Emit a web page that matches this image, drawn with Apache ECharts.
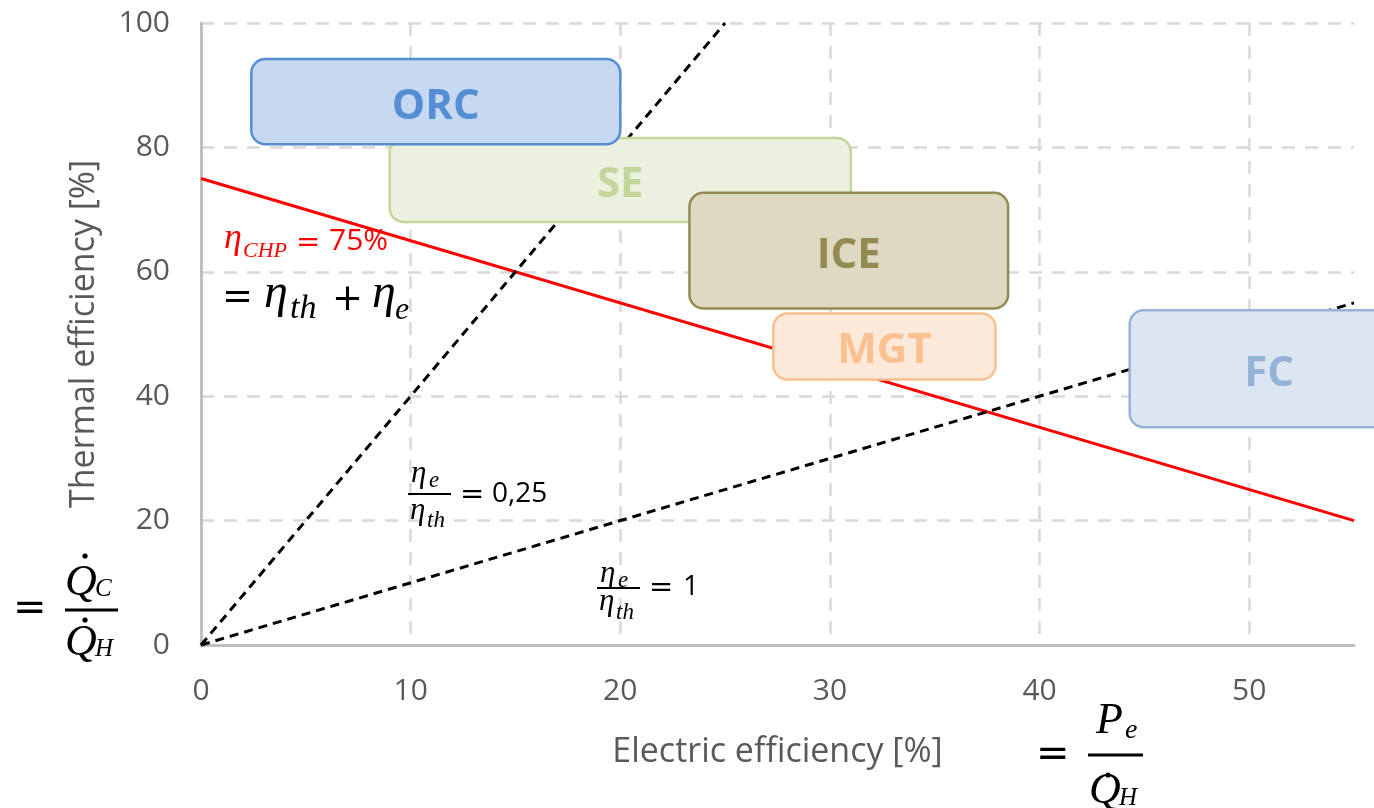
<!DOCTYPE html>
<html>
<head>
<meta charset="utf-8">
<script src="https://cdn.jsdelivr.net/npm/echarts@6/dist/echarts.min.js"></script>
<style>
html,body{margin:0;padding:0;background:#fff;}
#chart{width:1374px;height:808px;}
</style>
</head>
<body>
<div id="chart"></div>
<script>
// ---- data ----
const xMin = 0, xMax = 55, xInterval = 10;
const yMin = 0, yMax = 100, yInterval = 20;

// technology regions (drawn in this order)
const boxNames     = ['SE', 'ORC', 'ICE', 'MGT', 'FC'];
const boxElecMin   = [9.0, 2.4, 23.3, 27.3, 44.3];
const boxElecMax   = [31.0, 20.0, 38.5, 37.9, 57.6];
const boxThermMin  = [68.0, 80.5, 54.1, 42.7, 35.0];
const boxThermMax  = [81.5, 94.2, 72.7, 53.3, 53.8];

// reference lines
const chpElec   = [0, 55];
const chpTherm  = [75, 20];
const r025Elec  = [0, 25];
const r025Therm = [0, 100];
const r1Elec    = [0, 55];
const r1Therm   = [0, 55];

// ---- styles ----
const boxStyles = {
  SE:  {fill:'#ebf1de', stroke:'#c3d69b', text:'#c3d69b'},
  ORC: {fill:'#c6d9f1', stroke:'#558ed5', text:'#558ed5'},
  ICE: {fill:'#ddd9c3', stroke:'#948a54', text:'#948a54'},
  MGT: {fill:'#fde9d9', stroke:'#fac090', text:'#fac090'},
  FC:  {fill:'#dce6f2', stroke:'#95b3d7', text:'#95b3d7'}
};
const SANS = '"Open Sans", sans-serif';
const SERIF = '"Liberation Serif", serif';
const OPS = '"DejaVu Sans", sans-serif';
const GREY = '#595959';

const pairs = (xs, ys) => xs.map((x, i) => [x, ys[i]]);
const boxData = boxNames.map((n, i) => [boxElecMin[i], boxThermMin[i], boxElecMax[i], boxThermMax[i], i]);

// ---- math annotation helpers ----
// serif/italic letter placed by baseline
function sym(t, x, base, size, color) {
  return {
    type: 'text', x: x, y: base - 0.34 * size, z: 200,
    style: {text: t, fill: color || '#000', fontSize: size, fontFamily: SERIF,
            fontStyle: 'italic', align: 'left', verticalAlign: 'middle'}
  };
}
// sans number placed by baseline
function num(t, x, base, size, color) {
  return {
    type: 'text', x: x, y: base - 0.39 * size, z: 200,
    style: {text: t, fill: color || '#000', fontSize: size, fontFamily: SANS,
            align: 'left', verticalAlign: 'middle'}
  };
}
// operator placed by its visual centre
function op(t, x, cy, size, color) {
  return {
    type: 'text', x: x, y: cy, z: 200,
    style: {text: t, fill: color || '#000', fontSize: size, fontFamily: OPS,
            align: 'left', verticalAlign: 'middle'}
  };
}
function bar(x1, x2, y, w) {
  return {type:'line', z:200, shape:{x1:x1, y1:y, x2:x2, y2:y}, style:{stroke:'#000', lineWidth:w || 2}};
}
function dot(cx, cy, r) {
  return {type:'circle', z:200, shape:{cx:cx, cy:cy, r:r}, style:{fill:'#000'}};
}
const RED = '#ff0000';
const graphics = [
  // eta_CHP = 75%
  sym('η', 224, 251, 36, RED),
  sym('CHP', 243, 259, 22, RED),
  op('=', 296, 243, 29, RED),
  num('75%', 329, 253, 30, RED),
  // = eta_th + eta_e
  op('=', 222, 298, 37),
  sym('η', 264, 311, 48),
  sym('th', 290, 321, 34),
  op('+', 332, 300, 37),
  sym('η', 372, 311, 48),
  sym('e', 395, 321, 32),
  // eta_e/eta_th = 0,25
  sym('η', 411, 484, 31),
  sym('e', 429, 489, 23),
  bar(408, 451, 494, 2),
  sym('η', 410, 521, 31),
  sym('th', 427, 529, 23),
  op('=', 460, 495, 29),
  num('0,25', 492, 505, 28),
  // eta_e/eta_th = 1
  sym('η', 600, 584, 31),
  sym('e', 618, 589, 23),
  bar(597, 640, 588, 2),
  sym('η', 599, 612, 31),
  sym('th', 616, 621, 23),
  op('=', 649, 588, 29),
  num('1', 683, 598, 28),
  // = Qc/QH
  op('=', 13, 610, 40),
  bar(65, 118, 610, 3),
  sym('Q', 65, 598, 44),
  dot(85, 556, 2.6),
  sym('C', 95, 598, 25),
  sym('Q', 65, 658, 44),
  dot(85, 620, 2.6),
  sym('H', 95, 658, 25),
  // = Pe/QH
  op('=', 1036, 756, 40),
  bar(1088, 1143, 755, 3),
  sym('P', 1096, 736, 44),
  sym('e', 1125, 740, 28),
  sym('Q', 1089, 806, 44),
  dot(1108, 775, 2.6),
  sym('H', 1119, 807, 25)
];

const chart = echarts.init(document.getElementById('chart'), null, {renderer:'canvas'});
chart.setOption({
  animation: false,
  backgroundColor: '#ffffff',
  grid: {left: 201, right: 20, top: 23, bottom: 163, containLabel: false},
  xAxis: {
    type: 'value', min: xMin, max: xMax, interval: xInterval,
    name: 'Electric efficiency [%]', nameLocation: 'middle', nameGap: 90,
    nameTextStyle: {color: GREY, fontSize: 34, fontFamily: SANS},
    axisLine: {show: true, lineStyle: {color: '#bfbfbf', width: 3}},
    axisTick: {show: false},
    axisLabel: {color: GREY, fontSize: 30, fontFamily: SANS, margin: 31, showMaxLabel: false},
    splitLine: {show: true, showMaxLine: false, lineStyle: {color: '#d9d9d9', width: 2.5, type: [13, 10]}}
  },
  yAxis: {
    type: 'value', min: yMin, max: yMax, interval: yInterval,
    name: 'Thermal efficiency [%]', nameLocation: 'middle', nameGap: 100, nameRotate: 90,
    nameTextStyle: {color: GREY, fontSize: 34, fontFamily: SANS},
    axisLine: {show: true, lineStyle: {color: '#bfbfbf', width: 3}},
    axisTick: {show: false},
    axisLabel: {color: GREY, fontSize: 30, fontFamily: SANS, margin: 31},
    splitLine: {show: true, lineStyle: {color: '#d9d9d9', width: 2.5, type: [13, 10]}}
  },
  series: [
    {type:'line', name:'CHP 75%', data: pairs(chpElec, chpTherm), symbol:'none', z: 3,
     lineStyle:{color:'#ff0000', width:3}},
    {type:'line', name:'ratio 0.25', data: pairs(r025Elec, r025Therm), symbol:'none', z: 3,
     lineStyle:{color:'#000000', width:3, type:[9, 6]}},
    {type:'line', name:'ratio 1', data: pairs(r1Elec, r1Therm), symbol:'none', z: 3,
     lineStyle:{color:'#000000', width:3, type:[9, 6]}},
    {type:'custom', name:'technologies', z: 10, clip: false,
     data: boxData,
     renderItem: function (params, api) {
       const i = api.value(4);
       const name = boxNames[i];
       const st = boxStyles[name];
       const p0 = api.coord([api.value(0), api.value(3)]);
       const p1 = api.coord([api.value(2), api.value(1)]);
       const w = p1[0] - p0[0], h = p1[1] - p0[1];
       return {
         type: 'group',
         children: [
           {type:'rect', shape:{x:p0[0], y:p0[1], width:w, height:h, r:14},
            style:{fill:st.fill, stroke:st.stroke, lineWidth:2.5}},
           {type:'text', x: p0[0] + w/2, y: p0[1] + h/2 + 5,
            style:{text:name, fill:st.text, fontSize:42, fontWeight:'bold', fontFamily:SANS,
                   align:'center', verticalAlign:'middle'}}
         ]
       };
     }}
  ],
  graphic: graphics
});
</script>
</body>
</html>
